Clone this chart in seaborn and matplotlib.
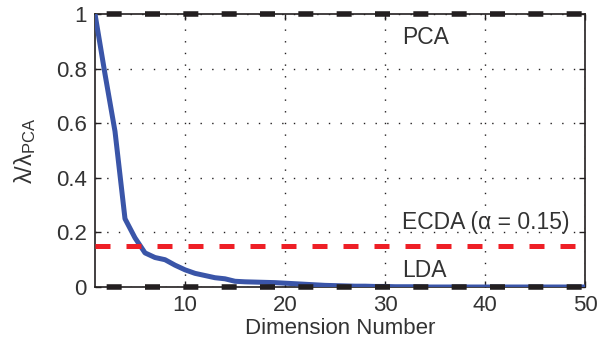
import matplotlib
matplotlib.use("Agg")
import matplotlib.pyplot as plt
import numpy as np
import pandas as pd
import seaborn as sns

# eigenvalue ratio per dimension
dims = list(range(1, 51))
ratio = [1.0, 0.78, 0.57, 0.25, 0.18, 0.125, 0.108, 0.10, 0.08, 0.063,
         0.05, 0.042, 0.034, 0.03, 0.021, 0.019, 0.018, 0.017, 0.016, 0.014,
         0.012, 0.010, 0.008, 0.006, 0.005, 0.004, 0.003, 0.003, 0.002, 0.002,
         0.001, 0.001, 0.001, 0.0, 0.0, 0.0, 0.0, 0.0, 0.0, 0.0,
         0.0, 0.0, 0.0, 0.0, 0.0, 0.0, 0.0, 0.0, 0.0, 0.0]
pca_level = 1.0
lda_level = 0.0
ecda_level = 0.15

x_ticks = [10, 20, 30, 40, 50]
y_ticks = [0, 0.2, 0.4, 0.6, 0.8, 1]
y_tick_labels = ["0", "0.2", "0.4", "0.6", "0.8", "1"]

df = pd.DataFrame({"dim": dims, "ratio": ratio})

sns.set_style("ticks")
plt.rcParams["font.family"] = ["Liberation Sans", "DejaVu Sans"]
plt.rcParams["mathtext.fontset"] = "custom"
plt.rcParams["mathtext.rm"] = "Liberation Sans"
plt.rcParams["mathtext.it"] = "Liberation Sans"

fig = plt.figure(figsize=(5.97, 3.54), dpi=100)
ax = fig.add_axes([95 / 597, 1 - 287 / 354, 490 / 597, 273 / 354])

blue = "#3a55a8"
red = "#ee1f26"
black = "#231f20"
text_col = "#333333"

sns.lineplot(data=df, x="dim", y="ratio", ax=ax, color=blue, lw=3.6, zorder=3)

ax.axhline(ecda_level, color=red, lw=3.6, linestyle=(0, (3.0, 3.2)), zorder=4)
for lvl in (pca_level, lda_level):
    ax.axhline(lvl, color=black, lw=4, linestyle=(4.8, (2.7, 4.2)),
               zorder=5, clip_on=False)

ax.text(31.7, 0.915, "PCA", fontsize=16.5, va="center", ha="left", color=text_col)
ax.text(31.7, 0.235, "ECDA (\u03b1 = 0.15)", fontsize=16.5, va="center",
        ha="left", color=text_col)
ax.text(31.7, 0.062, "LDA", fontsize=16.5, va="center", ha="left", color=text_col)

ax.set_xlim(1, 50)
ax.set_ylim(0, 1)
ax.set_xticks(x_ticks)
ax.set_yticks(y_ticks)
ax.set_yticklabels(y_tick_labels)
ax.grid(True, color=black, lw=1.0, linestyle=(0, (1, 7.4)))
ax.tick_params(direction="in", length=4, width=1, top=True, right=True,
               labelsize=16, colors=black, labelcolor=text_col, pad=6)
for sp in ax.spines.values():
    sp.set_visible(True)
    sp.set_linewidth(1.2)
    sp.set_color(black)

ax.set_xlabel("Dimension Number", fontsize=16, color=text_col)
ax.xaxis.set_label_coords(0.5, -0.115)
ax.set_ylabel(r"$\lambda/\lambda_{\mathrm{PCA}}$", fontsize=17, color=text_col)
ax.yaxis.set_label_coords(-0.116, 0.5)

fig.savefig("out.png", dpi=100)
